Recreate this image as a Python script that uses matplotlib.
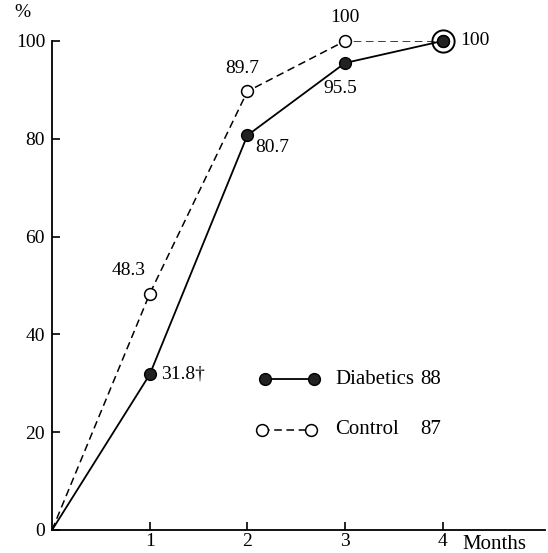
import matplotlib.pyplot as plt

plt.rcParams['font.family'] = ['Liberation Serif', 'DejaVu Serif']

months = [0, 1, 2, 3, 4]
diabetics = [0, 31.8, 80.7, 95.5, 100]
control = [0, 48.3, 89.7, 100, 100]
diab_labels = ["", "31.8\u2020", "80.7", "95.5", "100"]
ctrl_labels = ["", "48.3", "89.7", "100", ""]
xticks = [1, 2, 3, 4]
yticks = [0, 20, 40, 60, 80, 100]
n_diab, n_ctrl = 88, 87

fig = plt.figure(figsize=(5.48, 5.53), dpi=100)
ax = fig.add_axes([0.095, 0.0416, 0.9, 0.8843])
ax.set_xlim(0, 5.05)
ax.set_ylim(0, 100)

ax.plot(months, control, color="black", lw=1.1, ls=(0, (5, 3)), zorder=2)
ax.plot(months[1:], control[1:], ls="none", marker="o", ms=8.5, mfc="white",
        mec="black", mew=1.1, clip_on=False, zorder=3)
ax.plot(months, diabetics, color="black", lw=1.3, zorder=2)
ax.plot(months[1:], diabetics[1:], ls="none", marker="o", ms=8.5,
        mfc="#222222", mec="black", clip_on=False, zorder=4)
# ring around the shared 100% point
ax.plot([4], [100], marker="o", ms=16, mfc="none", mec="black", mew=1.4,
        clip_on=False, zorder=5)

fs = 14
ax.text(0.96, control[1] + 3, ctrl_labels[1], ha="right", va="bottom", fontsize=fs)
ax.text(1.12, diabetics[1], diab_labels[1], ha="left", va="center", fontsize=fs)
ax.text(2.08, diabetics[2] - 2.5, diab_labels[2], ha="left", va="center", fontsize=fs)
ax.text(1.95, control[2] + 3, ctrl_labels[2], ha="center", va="bottom", fontsize=fs)
ax.text(2.95, diabetics[3] - 3.5, diab_labels[3], ha="center", va="top", fontsize=fs)
ax.text(3.0, control[3] + 3, ctrl_labels[3], ha="center", va="bottom", fontsize=fs)
ax.text(4.18, diabetics[4], diab_labels[4], ha="left", va="center", fontsize=fs)

# legend
ax.plot([2.18, 2.68], [30.8, 30.8], color="black", lw=1.3, marker="o", ms=8.5,
        mfc="#222222", mec="black")
ax.plot([2.15, 2.65], [20.5, 20.5], color="black", lw=1.1, ls=(0, (5, 3)),
        marker="o", ms=8.5, mfc="white", mec="black", mew=1.1)
ax.text(2.9, 30.8, "Diabetics", ha="left", va="center", fontsize=fs + 1)
ax.text(3.77, 30.8, str(n_diab), ha="left", va="center", fontsize=fs + 1)
ax.text(2.9, 20.5, "Control", ha="left", va="center", fontsize=fs + 1)
ax.text(3.77, 20.5, str(n_ctrl), ha="left", va="center", fontsize=fs + 1)

for s in ["top", "right"]:
    ax.spines[s].set_visible(False)
ax.spines["left"].set_linewidth(1.3)
ax.spines["bottom"].set_linewidth(1.3)

ax.set_xticks(xticks, [str(t) for t in xticks], fontsize=fs)
ax.set_yticks(yticks, [str(t) for t in yticks], fontsize=fs)
ax.tick_params(axis="both", direction="in", length=6, width=1.2)
ax.tick_params(axis="x", pad=2)
ax.tick_params(axis="y", pad=5)

ax.text(4.2, -3.0, "Months", ha="left", va="center", fontsize=fs + 1)
ax.text(-0.3, 104, "%", ha="center", va="bottom", fontsize=fs)

fig.savefig("out.png", dpi=100)
